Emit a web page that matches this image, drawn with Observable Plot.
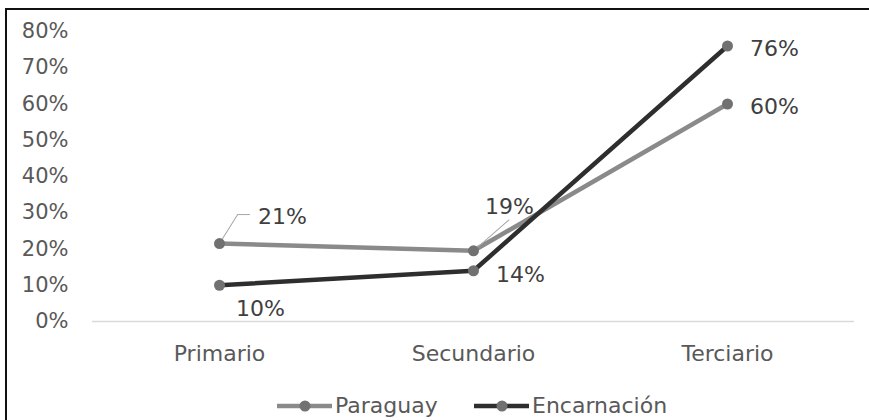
<!DOCTYPE html>
<html>
<head>
<meta charset="utf-8">
<script src="https://cdn.jsdelivr.net/npm/d3@7"></script>
<script src="https://cdn.jsdelivr.net/npm/@observablehq/plot@0.6"></script>
<style>
  html, body { margin: 0; padding: 0; background: #fff; }
  body { position: relative; width: 869px; height: 420px; overflow: hidden; font-family: "DejaVu Sans", sans-serif; }
  #frame { position: absolute; left: 5px; top: 8px; width: 900px; height: 440px; border-left: 2px solid #111; border-top: 2px solid #111; box-sizing: border-box; }
  #chart { position: absolute; left: 0; top: 0; }
  .leg { position: absolute; top: 393px; display: flex; align-items: center; font-size: 22px; color: #595959; line-height: 26px; }
  .leg svg { display: block; margin-right: 3px; }
</style>
</head>
<body>
<div id="frame"></div>
<div id="chart"></div>
<div class="leg" id="leg1" style="left:277px"></div>
<div class="leg" id="leg2" style="left:474px"></div>
<script>
const categories = ["Primario", "Secundario", "Terciario"];
const seriesNames = ["Paraguay", "Encarnación"];
const paraguay = [0.215, 0.195, 0.60];
const encarnacion = [0.10, 0.14, 0.76];
const paraguayLabels = ["21%", "19%", "60%"];
const encarnacionLabels = ["10%", "14%", "76%"];
const yTicks = [0, 0.1, 0.2, 0.3, 0.4, 0.5, 0.6, 0.7, 0.8];

const colors = {"Paraguay": "#8a8a8a", "Encarnación": "#2e2e2e"};
const markerColor = "#717171";

const pRows = categories.map((c, i) => ({cat: c, v: paraguay[i], label: paraguayLabels[i]}));
const eRows = categories.map((c, i) => ({cat: c, v: encarnacion[i], label: encarnacionLabels[i]}));

const labelFont = {fontSize: 22, fill: "#404040", textAnchor: "middle"};
const leaderShape = {draw(context, l) { context.moveTo(0, 0); context.lineTo(0, -l); }};
const leader = {stroke: "#a6a6a6", strokeWidth: 1, anchor: "start", shape: leaderShape};

const chart = Plot.plot({
  width: 869,
  height: 375,
  marginTop: 31,
  marginBottom: 54,
  marginLeft: 92,
  marginRight: 15,
  style: {fontFamily: "DejaVu Sans, sans-serif", background: "transparent"},
  x: {type: "point", domain: categories, padding: 0.5, label: null},
  y: {domain: [0, 0.8], label: null},
  marks: [
    Plot.ruleY([0], {stroke: "#d9d9d9", strokeWidth: 1.5}),
    Plot.axisY({ticks: yTicks, tickFormat: d => Math.round(d * 100) + "%", tickSize: 0, tickPadding: 24, fontSize: 21, color: "#595959", label: null}),
    Plot.axisX({tickSize: 0, tickPadding: 24, fontSize: 22, color: "#595959", label: null}),
    Plot.line(pRows, {x: "cat", y: "v", stroke: colors["Paraguay"], strokeWidth: 4.5}),
    Plot.line(eRows, {x: "cat", y: "v", stroke: colors["Encarnación"], strokeWidth: 4.5}),
    // leader lines
    Plot.vector(pRows.filter((d, i) => i === 0), {x: "cat", y: "v", length: 34, rotate: 32, ...leader}),
    Plot.vector(pRows.filter((d, i) => i === 0), {x: "cat", y: "v", dx: 18, dy: -29, length: 12, rotate: 90, ...leader}),
    Plot.vector(pRows.filter((d, i) => i === 1), {x: "cat", y: "v", length: 47, rotate: 49, ...leader}),
    Plot.dot(pRows, {x: "cat", y: "v", r: 5.5, fill: markerColor}),
    Plot.dot(eRows, {x: "cat", y: "v", r: 5.5, fill: markerColor}),
    // data labels
    Plot.text(pRows.filter((d, i) => i === 0), {x: "cat", y: "v", text: "label", dx: 63, dy: -27, ...labelFont}),
    Plot.text(pRows.filter((d, i) => i === 1), {x: "cat", y: "v", text: "label", dx: 36, dy: -44, ...labelFont}),
    Plot.text(pRows.filter((d, i) => i === 2), {x: "cat", y: "v", text: "label", dx: 47, dy: 3, ...labelFont}),
    Plot.text(eRows.filter((d, i) => i === 0), {x: "cat", y: "v", text: "label", dx: 41, dy: 24, ...labelFont}),
    Plot.text(eRows.filter((d, i) => i === 1), {x: "cat", y: "v", text: "label", dx: 47, dy: 4, ...labelFont}),
    Plot.text(eRows.filter((d, i) => i === 2), {x: "cat", y: "v", text: "label", dx: 47, dy: 3, ...labelFont})
  ]
});
document.getElementById("chart").appendChild(chart);

function legendItem(el, name) {
  const ns = "http://www.w3.org/2000/svg";
  const svg = document.createElementNS(ns, "svg");
  svg.setAttribute("width", 55); svg.setAttribute("height", 14);
  const line = document.createElementNS(ns, "line");
  line.setAttribute("x1", 0); line.setAttribute("x2", 55);
  line.setAttribute("y1", 7); line.setAttribute("y2", 7);
  line.setAttribute("stroke", colors[name]); line.setAttribute("stroke-width", 4.5);
  const c = document.createElementNS(ns, "circle");
  c.setAttribute("cx", 28); c.setAttribute("cy", 7); c.setAttribute("r", 5.5);
  c.setAttribute("fill", markerColor);
  svg.appendChild(line); svg.appendChild(c);
  const span = document.createElement("span");
  span.textContent = name;
  el.appendChild(svg); el.appendChild(span);
}
legendItem(document.getElementById("leg1"), seriesNames[0]);
legendItem(document.getElementById("leg2"), seriesNames[1]);
</script>
</body>
</html>
